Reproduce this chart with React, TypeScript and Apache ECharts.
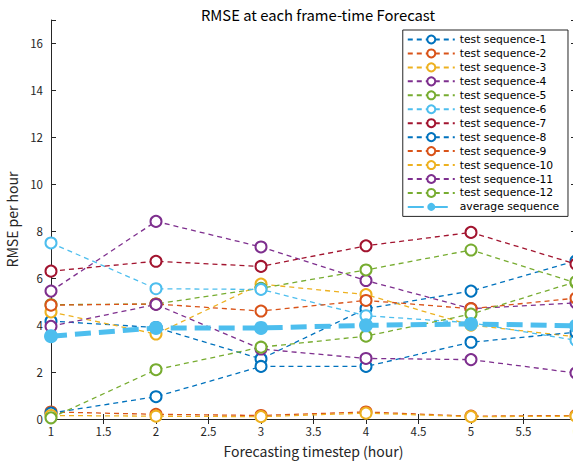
import React, { useEffect, useRef } from "react";
import * as echarts from "echarts";

const timesteps = [1, 2, 3, 4, 5, 6];
const seriesNames = [
  "test sequence-1", "test sequence-2", "test sequence-3", "test sequence-4",
  "test sequence-5", "test sequence-6", "test sequence-7", "test sequence-8",
  "test sequence-9", "test sequence-10", "test sequence-11", "test sequence-12",
];
const seq1 = [4.17, 3.9, 2.56, 4.7, 5.45, 6.74];
const seq2 = [0.3, 0.2, 0.15, 0.3, 0.12, 0.15];
const seq3 = [4.56, 3.62, 5.75, 5.3, 4.0, 3.5];
const seq4 = [5.45, 8.42, 7.33, 5.9, 4.7, 4.95];
const seq5 = [4.87, 4.9, 5.57, 6.35, 7.2, 5.8];
const seq6 = [7.5, 5.55, 5.52, 4.4, 4.1, 3.35];
const seq7 = [6.3, 6.72, 6.5, 7.38, 7.95, 6.6];
const seq8 = [0.25, 0.95, 2.24, 2.24, 3.27, 3.7];
const seq9 = [4.85, 4.9, 4.6, 5.05, 4.7, 5.15];
const seq10 = [0.15, 0.12, 0.1, 0.25, 0.1, 0.12];
const seq11 = [3.95, 4.88, 2.98, 2.58, 2.53, 1.96];
const seq12 = [0.05, 2.1, 3.06, 3.53, 4.47, 5.85];
const average = [3.53, 3.88, 3.88, 3.99, 4.05, 3.97];
const yTicksMax = 17;

const allSeq = [seq1, seq2, seq3, seq4, seq5, seq6, seq7, seq8, seq9, seq10, seq11, seq12];
const palette = ["#0072BD", "#D95319", "#EDB120", "#7E2F8E", "#77AC30", "#4DBEEE", "#A2142F"];

const FONT = "'Noto Sans CJK JP', 'Noto Sans', sans-serif";
const LEGEND_FONT = "'DejaVu Sans', sans-serif";
const AX = "#262626";

export default function App() {
  const ref = useRef<HTMLDivElement>(null);
  useEffect(() => {
    if (!ref.current) return;
    const chart = echarts.init(ref.current, null, { renderer: "svg" });
    const series: any[] = allSeq.map((vals, i) => ({
      name: seriesNames[i],
      type: "line",
      xAxisIndex: 0,
      yAxisIndex: 0,
      data: timesteps.map((t, k) => [t, vals[k]]),
      symbol: "emptyCircle",
      symbolSize: 11,
      itemStyle: { color: palette[i % 7], borderWidth: 1.2 },
      lineStyle: { color: palette[i % 7], width: 1.3, type: [5, 4] },
      clip: false,
    }));
    series.push({
      name: "average sequence",
      type: "line",
      xAxisIndex: 0,
      yAxisIndex: 0,
      data: timesteps.map((t, k) => [t, average[k]]),
      symbol: "circle",
      symbolSize: 14,
      itemStyle: { color: "#4DBEEE" },
      lineStyle: { color: "#4DBEEE", width: 5, type: [16, 8] },
      clip: false,
      z: 3,
    });
    const tickCommon = { show: true, inside: true, length: 5, lineStyle: { color: AX } };
    chart.setOption({
      animation: false,
      backgroundColor: "#ffffff",
      textStyle: { fontFamily: FONT },
      title: {
        text: "RMSE at each frame-time Forecast",
        left: 313,
        top: 2,
        textAlign: "center",
        textStyle: { fontFamily: FONT, fontSize: 14.8, fontWeight: "normal", color: "#000" },
      },
      grid: { left: 51, right: -3, top: 20, bottom: 47, containLabel: false, outerBoundsMode: "none" },
      xAxis: [
        {
          type: "value", min: 1, max: 6, interval: 0.5, position: "bottom",
          name: "Forecasting timestep (hour)", nameLocation: "middle", nameGap: 25,
          nameTextStyle: { fontFamily: FONT, fontSize: 14, color: AX },
          axisLine: { show: true, lineStyle: { color: AX } },
          axisTick: tickCommon,
          axisLabel: { fontFamily: FONT, fontSize: 11.5, color: AX, margin: 6 },
          splitLine: { show: false },
        },
        {
          type: "value", min: 1, max: 6, interval: 0.5, position: "top",
          axisLine: { show: true, lineStyle: { color: AX } },
          axisTick: tickCommon,
          axisLabel: { show: false },
          splitLine: { show: false },
        },
      ],
      yAxis: [
        {
          type: "value", min: 0, max: yTicksMax, interval: 2, position: "left",
          name: "RMSE per hour", nameLocation: "middle", nameGap: 26,
          nameTextStyle: { fontFamily: FONT, fontSize: 14, color: AX },
          axisLine: { show: true, lineStyle: { color: AX } },
          axisTick: tickCommon,
          axisLabel: {
            fontFamily: FONT, fontSize: 11.5, color: AX, margin: 8,
            formatter: (v: number) => (v === yTicksMax ? "" : String(v)),
          },
          splitLine: { show: false },
        },
        {
          type: "value", min: 0, max: yTicksMax, interval: 2, position: "right",
          axisLine: { show: true, lineStyle: { color: AX } },
          axisTick: tickCommon,
          axisLabel: { show: false },
          splitLine: { show: false },
        },
      ],
      legend: {
        orient: "vertical",
        right: 5,
        top: 30,
        itemWidth: 47,
        itemHeight: 10,
        itemGap: 2.95,
        padding: [4, 9, 4, 4],
        borderColor: AX,
        borderWidth: 1,
        backgroundColor: "#ffffff",
        textStyle: { fontFamily: LEGEND_FONT, fontSize: 10.75, color: "#000" },
        data: [...seriesNames, "average sequence"],
      },
      series,
    });
    return () => chart.dispose();
  }, []);
  return (
    <div
      ref={ref}
      style={{ position: "fixed", left: 0, top: 0, width: 573, height: 466, background: "#fff" }}
    />
  );
}
